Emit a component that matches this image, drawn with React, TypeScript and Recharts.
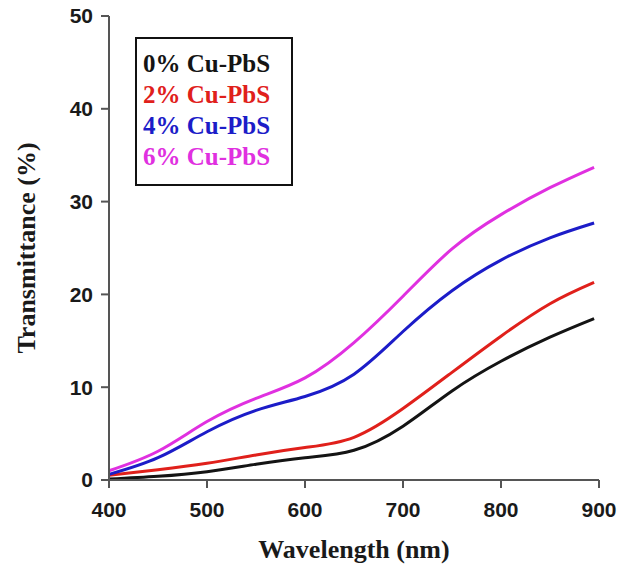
import { LineChart, Line, XAxis, YAxis, Legend } from "recharts";

const wavelength = [400, 450, 500, 550, 600, 650, 700, 750, 800, 850, 895];
const cu0 = [0.1, 0.4, 0.9, 1.7, 2.4, 3.2, 5.8, 9.6, 12.8, 15.4, 17.4];
const cu2 = [0.5, 1.1, 1.8, 2.7, 3.5, 4.6, 7.7, 11.6, 15.5, 19.0, 21.3];
const cu4 = [0.6, 2.4, 5.2, 7.5, 9.0, 11.4, 16.0, 20.4, 23.7, 26.1, 27.7];
const cu6 = [1.0, 3.1, 6.3, 8.8, 11.0, 14.8, 19.8, 24.9, 28.6, 31.5, 33.7];
const xTicks = [400, 500, 600, 700, 800, 900];
const yTicks = [0, 10, 20, 30, 40, 50];

const series = [
  { key: "cu0", name: "0% Cu-PbS", color: "#141414" },
  { key: "cu2", name: "2% Cu-PbS", color: "#e0201b" },
  { key: "cu4", name: "4% Cu-PbS", color: "#1c1cc8" },
  { key: "cu6", name: "6% Cu-PbS", color: "#e030e0" },
];

const data = wavelength.map((w, i) => ({
  w,
  cu0: cu0[i],
  cu2: cu2[i],
  cu4: cu4[i],
  cu6: cu6[i],
}));

const tickStyle = {
  fontFamily: "'Liberation Sans', Arial, sans-serif",
  fontWeight: 700,
  fontSize: 21,
  fill: "#1a1a1a",
};
const titleFont = "'Liberation Serif', 'Times New Roman', serif";
const axisColor = "#555";

function LegendBox() {
  return (
    <div
      style={{
        width: 148,
        height: 136,
        border: "2px solid #111",
        boxSizing: "content-box",
        paddingTop: 9,
        paddingLeft: 6,
        fontFamily: titleFont,
        fontWeight: 700,
        fontSize: 25,
        lineHeight: "31px",
        textAlign: "left",
        whiteSpace: "nowrap",
      }}
    >
      {series.map((s) => (
        <div key={s.key} style={{ color: s.color }}>
          {s.name}
        </div>
      ))}
    </div>
  );
}

export default function App() {
  return (
    <div style={{ position: "absolute", left: 0, top: 0, background: "#fff" }}>
      <LineChart
        width={618}
        height={568}
        data={data}
        margin={{ top: 16, right: 19, bottom: 0, left: 0 }}
      >
        <XAxis
          dataKey="w"
          type="number"
          domain={[400, 900]}
          ticks={xTicks}
          height={88}
          tick={tickStyle}
          tickSize={8}
          tickMargin={14}
          stroke={axisColor}
          strokeWidth={2}
          label={{
            content: ({ viewBox }: any) => (
              <text
                x={viewBox.x + viewBox.width / 2}
                y={viewBox.y + 78}
                textAnchor="middle"
                fontFamily={titleFont}
                fontWeight={700}
                fontSize={26}
                fill="#1a1a1a"
              >
                Wavelength (nm)
              </text>
            ),
          }}
        />
        <XAxis
          xAxisId="top"
          dataKey="w"
          type="number"
          domain={[400, 900]}
          orientation="top"
          height={0}
          tick={false}
          tickLine={false}
          stroke={axisColor}
          strokeWidth={2}
        />
        <YAxis
          type="number"
          domain={[0, 50]}
          ticks={yTicks}
          width={109}
          tick={tickStyle}
          tickSize={8}
          tickMargin={8}
          stroke={axisColor}
          strokeWidth={2}
          label={{
            content: ({ viewBox }: any) => {
              const cx = 26;
              const cy = viewBox.y + viewBox.height / 2;
              return (
                <text
                  x={cx}
                  y={cy}
                  transform={`rotate(-90 ${cx} ${cy})`}
                  textAnchor="middle"
                  dominantBaseline="central"
                  fontFamily={titleFont}
                  fontWeight={700}
                  fontSize={26}
                  fill="#1a1a1a"
                >
                  Transmittance (%)
                </text>
              );
            },
          }}
        />
        <YAxis
          yAxisId="right"
          orientation="right"
          type="number"
          domain={[0, 50]}
          width={0}
          tick={false}
          tickLine={false}
          stroke={axisColor}
          strokeWidth={2}
        />
        <Legend
          layout="vertical"
          align="center"
          verticalAlign="middle"
          wrapperStyle={{ left: 135, top: 37, width: "auto" }}
          content={() => <LegendBox />}
        />
        {series.map((s) => (
          <Line
            key={s.key}
            type="natural"
            dataKey={s.key}
            name={s.name}
            stroke={s.color}
            strokeWidth={3}
            dot={false}
            isAnimationActive={false}
          />
        ))}
      </LineChart>
    </div>
  );
}
